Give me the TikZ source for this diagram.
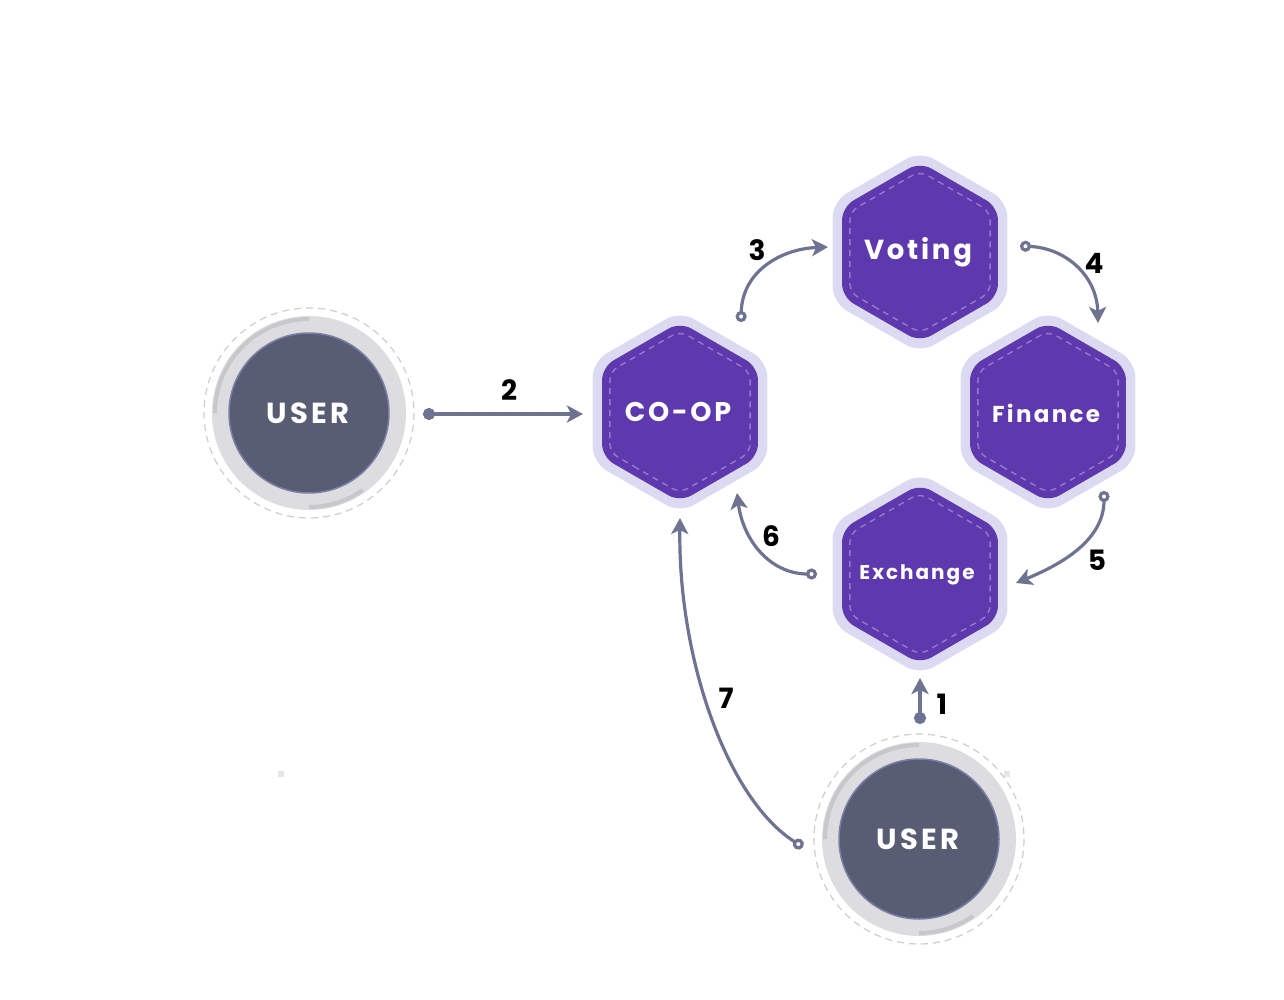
\documentclass[tikz,border=0pt]{standalone}
\usepackage{fontspec}
\setmainfont{Poppins}
\usetikzlibrary{arrows.meta}
\definecolor{hexfill}{HTML}{5E38AD}
\definecolor{halo}{HTML}{DCDAF0}
\definecolor{hexdash}{HTML}{9579CF}
\definecolor{userfill}{HTML}{595D74}
\definecolor{userborder}{HTML}{7B80A8}
\definecolor{ring}{HTML}{DDDCDF}
\definecolor{ringdark}{HTML}{C8C7CC}
\definecolor{dashring}{HTML}{CDCDCD}
\definecolor{conn}{HTML}{6E7391}
\definecolor{speck}{HTML}{E6E6EA}
\newcommand\hexring[1]{(120:{#1*0.866}) -- (150:#1) -- (210:#1) -- (270:#1) -- (330:#1) -- (30:#1) -- (90:#1) -- cycle}
\tikzset{
  hexa/.pic={
    \fill[halo, rounded corners=16pt] \hexring{101};
    \fill[hexfill, rounded corners=13pt] \hexring{90};
    \draw[hexdash, line width=1.4pt, dash pattern=on 6pt off 5pt, rounded corners=9pt] \hexring{81};
  },
  userpic/.pic={
    \draw[dashring, line width=1.2pt, dash pattern=on 7pt off 5pt] (0,0) circle (105);
    \fill[ring] (0,0) circle (97);
    \draw[ringdark, line width=4pt] (-90:94) arc[start angle=-90, end angle=-180, radius=94];
    \draw[ringdark, line width=4pt] (90:94) arc[start angle=90, end angle=55, radius=94];
    \fill[userfill] (0,0) circle (80);
    \draw[userborder, line width=1.5pt] (0,0) circle (80);
  },
  hexlabel/.style={text=white},
  userlabel/.style={text=white, font=\fontsize{29}{32}\selectfont\bfseries\addfontfeature{LetterSpace=12}},
  num/.style={text=black, font=\fontsize{28}{30}\selectfont\bfseries},
  conn/.style={draw=conn, line width=3.2pt},
  opentip/.style={{Circle[open, fill=white, length=11pt, width=11pt]}-{Stealth[length=16pt, width=17pt, inset=4pt]}},
  dottip/.style={{Circle[length=12pt, width=12pt]}-{Stealth[length=16pt, width=17pt, inset=4pt]}},
}
\begin{document}
\begin{tikzpicture}[x=1pt, y=-1pt]
\useasboundingbox (0,0) rectangle (1284,1000);
% specks
\fill[speck] (278,771) rectangle (284,777);
\fill[speck] (1004,771) rectangle (1010,777);
% users
\pic at (309,413) {userpic};
\pic at (919,839) {userpic};
\node[userlabel] (userL) at (308,413) {USER};
\node[userlabel] (userB) at (918,839) {USER};
% hexagons
\pic at (920,252) {hexa};
\pic at (680,412) {hexa};
\pic at (1048,412) {hexa};
\pic at (920,574) {hexa};
\node[hexlabel, font=\fontsize{27.5}{30}\selectfont\bfseries\addfontfeature{LetterSpace=10}] (voting) at (918,252) {Voting};
\node[hexlabel, font=\fontsize{27}{30}\selectfont\bfseries\addfontfeature{LetterSpace=10}] (coop) at (678,412) {CO-OP};
\node[hexlabel, font=\fontsize{23}{26}\selectfont\bfseries\addfontfeature{LetterSpace=10}] (finance) at (1046,413) {Finance};
\node[hexlabel, font=\fontsize{20}{23}\selectfont\bfseries\addfontfeature{LetterSpace=10}] (exchange) at (917,575) {Exchange};
% connector end points
\coordinate (s1) at (920,724); \coordinate (e1) at (920,678);
\coordinate (s2) at (423,414); \coordinate (e2) at (583,414);
\coordinate (s3) at (741,322); \coordinate (e3) at (828,247);
\coordinate (s4) at (1020,246); \coordinate (e4) at (1098,323);
\coordinate (s5) at (1104,491); \coordinate (e5) at (1016,583);
\coordinate (s6) at (817,574); \coordinate (e6) at (737,493);
\coordinate (s7) at (803,847); \coordinate (e7) at (680,518);
% connectors
\draw[conn, dottip] (s1) -- (e1);
\draw[conn, dottip] (s2) -- (e2);
\draw[conn, opentip] (s3) .. controls (742,272) and (780,249) .. (e3);
\draw[conn, opentip] (s4) .. controls (1066,248) and (1097,276) .. (e4);
\draw[conn, opentip] (s5) .. controls (1104,540) and (1062,564) .. (e5);
\draw[conn, opentip] (s6) .. controls (770,574) and (743,540) .. (e6);
\draw[conn, opentip] (s7) .. controls (728,800) and (678,660) .. (e7);
% labels
\node[num] (n1) at (942,704) {1};
\node[num] (n2) at (509,390) {2};
\node[num] (n3) at (757,250) {3};
\node[num] (n4) at (1094,263) {4};
\node[num] (n5) at (1097,560) {5};
\node[num] (n6) at (771,536) {6};
\node[num] (n7) at (726,698) {7};
\end{tikzpicture}
\end{document}
